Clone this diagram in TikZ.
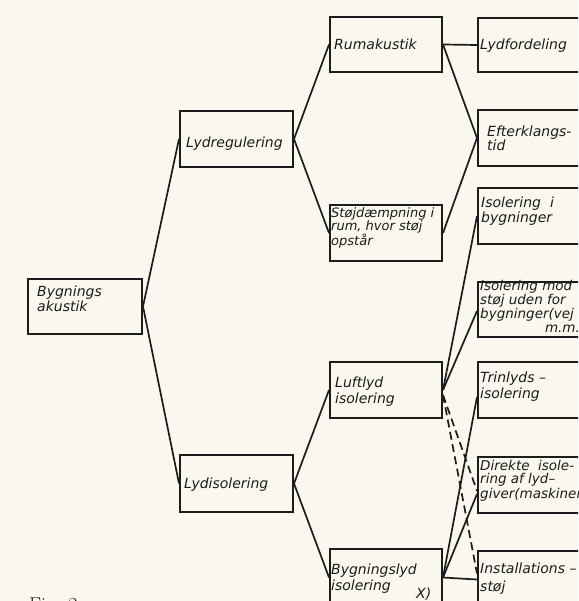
\documentclass[tikz,border=0pt]{standalone}
\usepackage{fontspec}
\newfontfamily\lblfont{DejaVu Sans}
\definecolor{paper}{RGB}{249,247,238}
\definecolor{ink}{RGB}{28,28,28}
\begin{document}
\begin{tikzpicture}[x=1pt,y=-1pt,
  box/.style={draw=ink, line width=2pt, inner sep=0pt, anchor=north west},
  lbl/.style={anchor=base west, inner sep=0pt, align=left, text=ink,
    font=\lblfont\itshape\fontsize{14}{15}\selectfont},
  conn/.style={draw=ink, line width=1.7pt},
  dconn/.style={conn, dash pattern=on 8pt off 4.5pt}]
\useasboundingbox (0,0) rectangle (578,601);
\fill[paper] (0,0) rectangle (578,601);
\clip (0,0) rectangle (578,601);
% column 1
\node[box, minimum width=114pt, minimum height=55pt] (bygn) at (27,278) {};
% column 2
\node[box, minimum width=113pt, minimum height=56pt] (lydreg) at (179,110) {};
\node[box, minimum width=113pt, minimum height=57pt] (lydiso) at (179,454) {};
% column 3
\node[box, minimum width=112pt, minimum height=55pt] (ruma) at (329,16) {};
\node[box, minimum width=112pt, minimum height=56pt] (stoj) at (329,204) {};
\node[box, minimum width=112pt, minimum height=56pt] (luft) at (329,361) {};
\node[box, minimum width=112pt, minimum height=57pt] (bygl) at (329,548) {};
% column 4
\node[box, minimum width=113pt, minimum height=54pt] (lydf) at (477,17) {};
\node[box, minimum width=113pt, minimum height=56pt] (efter) at (477,109) {};
\node[box, minimum width=113pt, minimum height=56pt] (isob) at (477,187) {};
\node[box, minimum width=113pt, minimum height=55pt] (isom) at (477,281) {};
\node[box, minimum width=113pt, minimum height=56pt] (trin) at (477,361) {};
\node[box, minimum width=113pt, minimum height=56pt] (dir) at (477,456) {};
\node[box, minimum width=113pt, minimum height=57pt] (inst) at (477,550) {};
% labels (anchored at the baseline of their last line)
\node[lbl] (t-bygn) at (37,311) {Bygnings\\akustik};
\node[lbl] (t-lydreg) at (186,148) {Lydregulering};
\node[lbl] (t-lydiso) at (184,488) {Lydisolering};
\node[lbl] (t-ruma) at (334,50) {Rumakustik};
\node[lbl, font=\lblfont\itshape\fontsize{13}{13.5}\selectfont] (t-stoj) at (331,246) {Støjdæmpning i\\rum, hvor støj\\opstår};
\node[lbl, font=\lblfont\itshape\fontsize{14}{16}\selectfont] (t-luft) at (335,403) {Luftlyd\\isolering};
\node[lbl, font=\lblfont\itshape\fontsize{14}{16}\selectfont] (t-bygl) at (331,590) {Bygningslyd\\isolering};
\node[lbl] (xmark) at (416,598) {X)};
\node[lbl] (t-lydf) at (480,50) {Lydfordeling};
\node[lbl, font=\lblfont\itshape\fontsize{14}{14}\selectfont] (t-efter) at (487,151) {Efterklangs-\\tid};
\node[lbl] (t-isob) at (481,223) {Isolering\ \ i\\bygninger};
\node[lbl, font=\lblfont\itshape\fontsize{13.5}{11.7}\selectfont] (t-isom) at (480,332.5) {Isolering mod\\støj uden for\\bygninger(vej\\\hspace*{4.8em}m.m.)};
\node[lbl, font=\lblfont\itshape\fontsize{14}{16}\selectfont] (t-trin) at (480,398) {Trinlyds –\\isolering};
\node[lbl, font=\lblfont\itshape\fontsize{13.5}{13}\selectfont] (t-dir) at (480,498) {Direkte\ \ isole-\\ring af lyd–\\giver(maskiner)};
\node[lbl, font=\lblfont\itshape\fontsize{14}{18}\selectfont] (t-inst) at (480,591) {Installations –\\støj};
\node[anchor=base west, inner sep=0pt, text=ink, font=\fontsize{20}{24}\selectfont] (fig) at (29,611) {Fig. 2};
% connectors
\draw[conn] (bygn.east) -- (lydreg.west);
\draw[conn] (bygn.east) -- (lydiso.west);
\draw[conn] (lydreg.east) -- (ruma.west);
\draw[conn] (lydreg.east) -- (stoj.west);
\draw[conn] (lydiso.east) -- (luft.west);
\draw[conn] (lydiso.east) -- (bygl.west);
\draw[conn] (ruma.east) -- (lydf.west);
\draw[conn] (ruma.east) -- (efter.west);
\draw[conn] (stoj.east) -- (efter.west);
\draw[conn] (luft.east) -- (isob.west);
\draw[conn] (luft.east) -- ([yshift=-1.5pt]isom.west);
\draw[conn] (bygl.east) -- ([yshift=-7pt]trin.west);
\draw[conn] (bygl.east) -- ([yshift=-9pt]dir.west);
\draw[conn] (bygl.east) -- (inst.west);
\draw[dconn] ([yshift=-5pt]luft.east) -- ([yshift=-6pt]dir.west);
\draw[dconn] ([yshift=-5pt]luft.east) -- ([yshift=6pt]inst.west);
\end{tikzpicture}
\end{document}
